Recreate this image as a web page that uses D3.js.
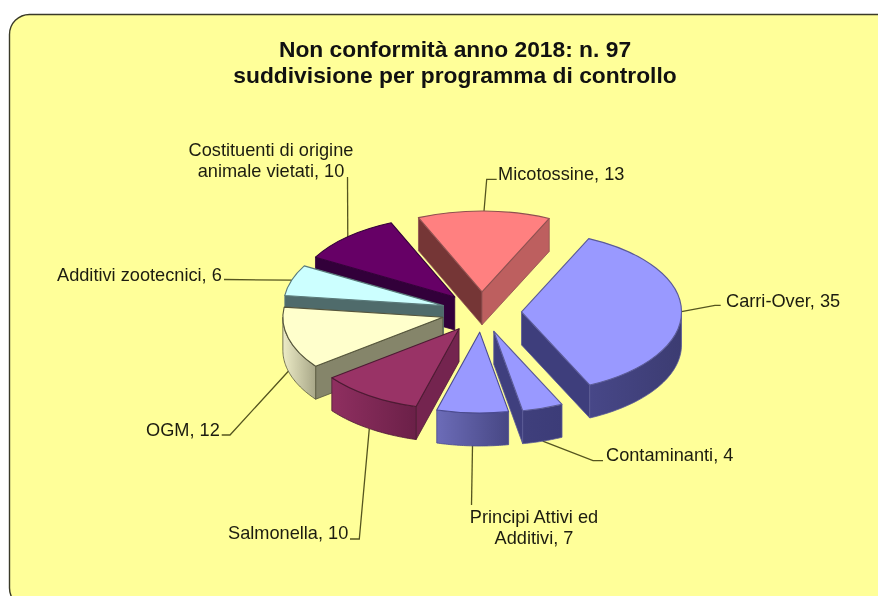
<!DOCTYPE html>
<html><head><meta charset="utf-8">
<script src="https://cdn.jsdelivr.net/npm/d3@7"></script>
<style>html,body{margin:0;padding:0;background:#fff}svg{display:block;filter:blur(0.45px)}
text{font-family:"Liberation Sans",Arial,sans-serif;fill:#1c1c10}</style></head>
<body><svg id="c" width="878" height="596"></svg>
<script>
// DATA
const categories = ["Micotossine","Carri-Over","Contaminanti","Principi Attivi ed Additivi","Salmonella","OGM","Additivi zootecnici","Costituenti di origine animale vietati"];
const values = [13,35,4,7,10,12,6,10];
const labelLines = [["Micotossine, 13"],["Carri-Over, 35"],["Contaminanti, 4"],["Principi Attivi ed","Additivi, 7"],["Salmonella, 10"],["OGM, 12"],["Additivi zootecnici, 6"],["Costituenti di origine","animale vietati, 10"]];
const titleLines = ["Non conformità anno 2018: n. 97","suddivisione per programma di controllo"];
// STYLE / LAYOUT
const W=878,H=596,cx=481.5,cy=312,R=160,K=0.505,DEPTH=33,EXPL=40;
const startDeg=-23.4;
const topColors=["#ff8080","#9999ff","#9999ff","#9999ff","#993366","#ffffcc","#ccffff","#660066"];
const edgeColors=["#8f5050","#5a5a98","#5a5a98","#4a4a90","#4d1a33","#55553c","#5a7a7a","#33003a"];
const outerLeft=["#b05858","#474788","#3f3f7c","#6c6cb8","#8f2f60","#ecebc6","#5a7878","#3c0040"];
const outerRight=["#b05858","#3c3c72","#3c3c78","#474784","#6b2048","#a8a788","#4a6666","#3c0040"];
const startWall=["#753636","#3c3c78","#3c3c78","#47477f","#74244f","#85856a","#4f6b6b","#32003a"];
const endWall=["#bd5f5f","#3e3e7c","#3f3f7e","#47477f","#74244f","#85856a","#4f6b6b","#32003a"];
const drawOrder=[7,0,6,1,5,2,4,3];
const labelLayout=[
 {x:498,y:[180],a:"start",elbow:[[496.7,179.3],[486.7,179.3]]},
 {x:726,y:[306.7],a:"start",elbow:[[720.7,305.3],[715,305.3]]},
 {x:606,y:[461],a:"start",elbow:[[603,460.7],[593,460.7]]},
 {x:534,y:[522.7,544],a:"middle",elbow:[[471.5,505]]},
 {x:228,y:[539],a:"start",elbow:[[350,539],[359.3,539]]},
 {x:146,y:[436],a:"start",elbow:[[221.7,435],[230,435]]},
 {x:57,y:[280.7],a:"start",elbow:[[224,279.5]]},
 {x:271,y:[156,176.5],a:"middle",elbow:[[347.5,177]]}
];
const svg=d3.select("#c");
const defs=svg.append("defs");
// panel
svg.append("rect").attr("x",9.5).attr("y",14.5).attr("width",W+20).attr("height",593.5).attr("rx",20)
  .attr("fill","#ffff99").attr("stroke","#3a3a28").attr("stroke-width",1.4);
// title
svg.append("g").selectAll("text").data(titleLines).join("text")
  .attr("x",455).attr("y",(d,i)=>57+i*26).attr("text-anchor","middle")
  .attr("font-size",22.8).attr("font-weight","bold").style("fill","#111").text(d=>d);
// pie
const pie=d3.pie().sort(null).startAngle(startDeg*Math.PI/180).endAngle(startDeg*Math.PI/180+2*Math.PI);
const arcs=pie(values);
const arcGen=d3.arc().innerRadius(0).outerRadius(R);
const offset=d=>{const m=(d.startAngle+d.endAngle)/2;return [cx+EXPL*Math.sin(m),cy-EXPL*Math.cos(m)*K];};
const pt=(d,a,r,dz)=>{const o=offset(d);return [o[0]+r*Math.sin(a),o[1]-r*Math.cos(a)*K+(dz||0)];};
// leaders
const leader=d3.line();
svg.append("g").selectAll("path").data(arcs).join("path")
  .attr("d",(d,i)=>{const m=(d.startAngle+d.endAngle)/2;
    return leader([...labelLayout[i].elbow,pt(d,m,R,Math.cos(m)<0?DEPTH:0)]);})
  .attr("fill","none").attr("stroke","#55551f").attr("stroke-width",1.3);
// slices back-to-front
const line=d3.line();
drawOrder.forEach(i=>{
  const d=arcs[i],g=svg.append("g");
  const wall=(a,col)=>{const o=offset(d);
    const p0=[o[0],o[1]],p1=pt(d,a,R);
    g.append("path").attr("d",line([p0,p1,[p1[0],p1[1]+DEPTH],[p0[0],p0[1]+DEPTH]])+"Z")
     .attr("fill",col).attr("stroke",edgeColors[i]).attr("stroke-width",0.8).attr("stroke-linejoin","round");};
  if(Math.sin(d.startAngle)<0) wall(d.startAngle,startWall[i]);
  if(Math.sin(d.endAngle)>0) wall(d.endAngle,endWall[i]);
  // outer wall: front half of the ellipse only
  const TAU=2*Math.PI;
  let lo=d.startAngle,hi=d.endAngle;
  if(lo<0){lo+=TAU;hi+=TAU;}
  const a0=Math.max(lo,Math.PI/2),a1=Math.min(hi,3*Math.PI/2);
  if(a1>a0){
    const id="g"+i,n=d3.range(0,41).map(t=>a0+(a1-a0)*t/40);
    const gr=defs.append("linearGradient").attr("id",id);
    gr.append("stop").attr("offset",0).attr("stop-color",outerLeft[i]);
    gr.append("stop").attr("offset",1).attr("stop-color",outerRight[i]);
    const top=n.map(a=>pt(d,a,R)),bot=n.map(a=>pt(d,a,R,DEPTH)).reverse();
    g.append("path").attr("d",line([...top,...bot])+"Z").attr("fill",`url(#${id})`)
     .attr("stroke",edgeColors[i]).attr("stroke-width",0.8);
  }
  // top face
  const o=offset(d);
  g.append("path").attr("transform",`translate(${o[0]},${o[1]}) scale(1,${K})`)
   .attr("d",arcGen(d)).attr("fill",topColors[i]).attr("stroke",edgeColors[i])
   .attr("stroke-width",1.1).attr("vector-effect","non-scaling-stroke").attr("stroke-linejoin","round");
});
// labels
const lg=svg.append("g").attr("font-size",18.2);
labelLines.forEach((lines,i)=>{const L=labelLayout[i];
  lines.forEach((t,j)=>lg.append("text").attr("x",L.x).attr("y",L.y[j]).attr("text-anchor",L.a).text(t));});
</script></body></html>
